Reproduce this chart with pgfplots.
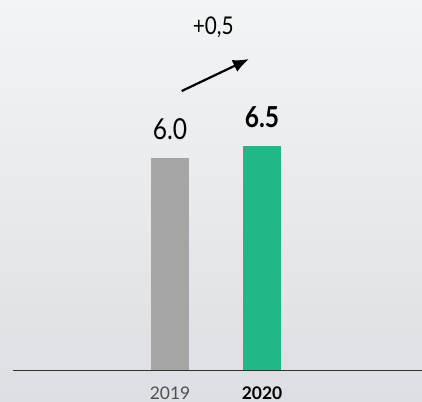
\documentclass[border=0pt]{standalone}
\usepackage{fontspec}
\setmainfont{Lato}
\newfontfamily\numfont[FakeStretch=0.85]{Lato}
\usepackage{pgfplots}
\pgfplotsset{compat=1.18}
\usetikzlibrary{arrows.meta}
\definecolor{barGray}{RGB}{165,165,165}
\definecolor{barGreen}{RGB}{32,184,135}
\definecolor{bgTop}{RGB}{243,244,245}
\definecolor{bgBot}{RGB}{220,223,227}
\definecolor{yearGray}{RGB}{80,80,80}
\begin{document}
\begin{tikzpicture}[x=1bp,y=1bp]
\shade[top color=bgTop, bottom color=bgBot] (-13,-32) rectangle (409,370);
\begin{axis}[
  at={(0,0)}, anchor=south west, scale only axis,
  width=409bp, height=370bp,
  xmin=-1.7065, xmax=2.739,
  y coord trafo/.code={\pgfmathparse{#1+2.8333}},
  y coord inv trafo/.code={\pgfmathparse{#1-2.8333}},
  ymin=-2.8333, ymax=12.5833,
  axis x line*=bottom, axis y line=none,
  x axis line style={draw=black!80, line width=0.8bp, -},
  xtick={0,1}, xticklabels={{\color{yearGray}2019},{\bfseries 2020}},
  major tick length=0pt,
  xticklabel style={anchor=base, yshift=-29.5bp, font=\fontsize{17.5}{20}\selectfont},
  ybar, bar width=38bp, bar shift=0pt,
  clip=false,
]
\addplot[fill=barGray, draw=none,
  nodes near coords={\numfont 6.0},
  every node near coord/.append style={inner sep=0pt, yshift=18.5bp, font=\fontsize{29}{32}\selectfont, text=black}]
  coordinates {(0,6.0)};
\addplot[fill=barGreen, draw=none,
  nodes near coords={\numfont\bfseries 6.5},
  every node near coord/.append style={inner sep=0pt, yshift=18bp, font=\fontsize{29}{32}\selectfont, text=black}]
  coordinates {(1,6.5)};
\node[font=\fontsize{24.5}{28}\selectfont\numfont, text=black, inner sep=0pt] at (axis cs:0.4707,11.46) {+0,5};
\draw[line width=2.2bp, -{Latex[length=16bp,width=13bp]}] (axis cs:0.127,8.79) -- (axis cs:0.8587,10.125);
\end{axis}
\pgfresetboundingbox
\path (-13,-32) rectangle (409,370);
\end{tikzpicture}
\end{document}
